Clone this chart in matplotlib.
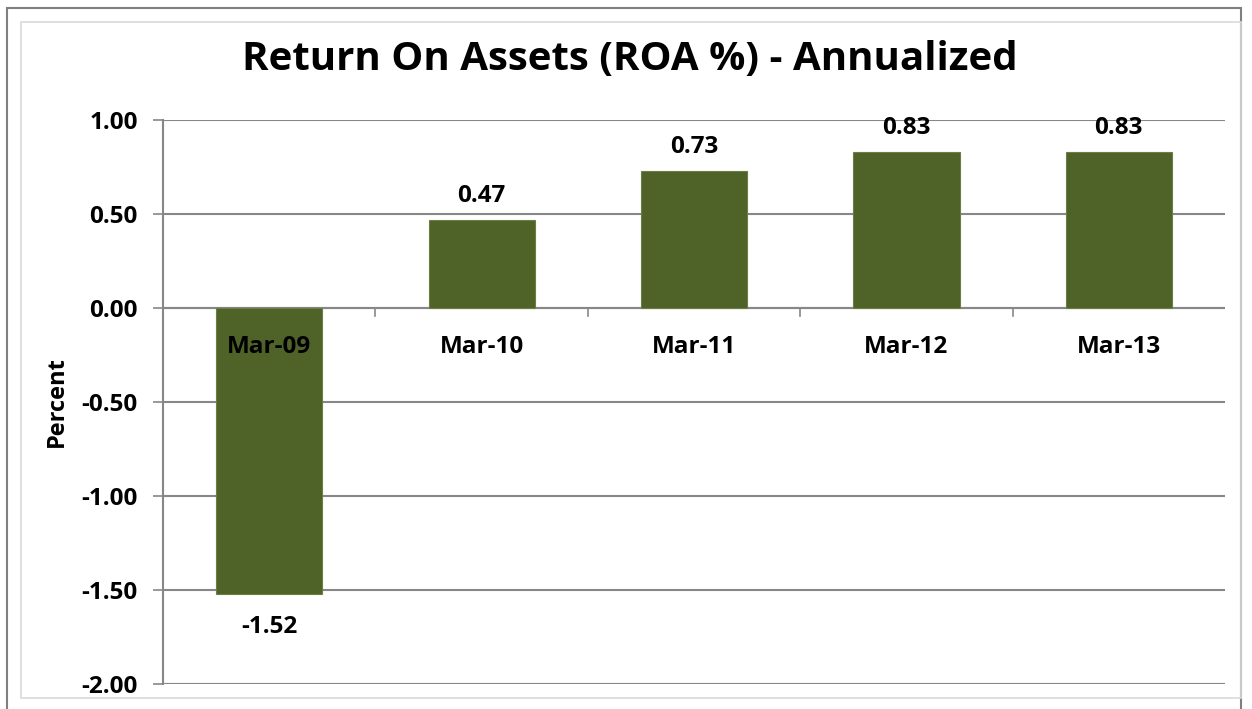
import matplotlib
matplotlib.use("Agg")
import matplotlib.pyplot as plt
from matplotlib.patches import Rectangle

categories = ["Mar-09", "Mar-10", "Mar-11", "Mar-12", "Mar-13"]
roa = [-1.52, 0.47, 0.73, 0.83, 0.83]
yticks = [1.00, 0.50, 0.00, -0.50, -1.00, -1.50, -2.00]

FONT = "Open Sans"
BAR = "#4F6228"
GRID = "#878787"
FS = 17.5

fig = plt.figure(figsize=(12.52, 7.09), dpi=100)
fig.patch.set_facecolor("white")
# outer borders
fig.add_artist(Rectangle((7/1252, -0.05), (1241-7)/1252, 1 - 8/709 + 0.05,
                         transform=fig.transFigure, fill=False, edgecolor="#7f7f7f", lw=1.5))
fig.add_artist(Rectangle((21/1252, 1 - 698/709), (1241-21)/1252, (698-22)/709,
                         transform=fig.transFigure, fill=False, edgecolor="#d9d9d9", lw=1.2))

ax = fig.add_axes([163/1252, 1 - 684/709, (1225-163)/1252, (684-120)/709])
x = list(range(len(categories)))
ax.bar(x, roa, width=0.5, color=BAR, edgecolor="#6B7F45", linewidth=0.8, zorder=3)
ax.set_xlim(-0.5, len(categories) - 0.5)
ax.set_ylim(-2.0, 1.0)
ax.set_yticks(yticks)
ax.set_yticklabels([f"{v:.2f}" for v in yticks], fontfamily=FONT, fontweight="bold", fontsize=FS)
ax.tick_params(axis="y", length=7, width=1.2, color=GRID, pad=11)
ax.grid(axis="y", color=GRID, lw=1.5, zorder=1)
for s in ["top", "right", "bottom"]:
    ax.spines[s].set_visible(False)
ax.spines["left"].set_color(GRID)
ax.spines["left"].set_linewidth(1.5)
ax.set_xticks([])
# x axis at zero with tick marks between categories
ax.axhline(0, color=GRID, lw=1.5, zorder=2)
for b in [i + 0.5 for i in range(len(categories) - 1)]:
    ax.plot([b, b], [0, -0.04], color=GRID, lw=1.2, zorder=2, clip_on=False)

for i, (c, v) in enumerate(zip(categories, roa)):
    ax.text(i, -0.239, c, ha="center", va="baseline", fontfamily=FONT, fontweight="bold", fontsize=FS, zorder=4)
    if v >= 0:
        ax.annotate(f"{v:.2f}", (i, v), xytext=(0, 13), textcoords="offset points",
                    ha="center", va="baseline", fontfamily=FONT, fontweight="bold", fontsize=FS)
    else:
        ax.annotate(f"{v:.2f}", (i, v), xytext=(0, -28), textcoords="offset points",
                    ha="center", va="baseline", fontfamily=FONT, fontweight="bold", fontsize=FS)

fig.text(57/1252, 1 - 402/709, "Percent", rotation=90, ha="center", va="center",
         fontfamily=FONT, fontweight="bold", fontsize=17)
fig.text(630/1252, 1 - 59/709, "Return On Assets (ROA %) - Annualized", ha="center", va="center",
         fontfamily=FONT, fontweight="bold", fontsize=29)

fig.savefig("out.png", dpi=100, facecolor="white")
